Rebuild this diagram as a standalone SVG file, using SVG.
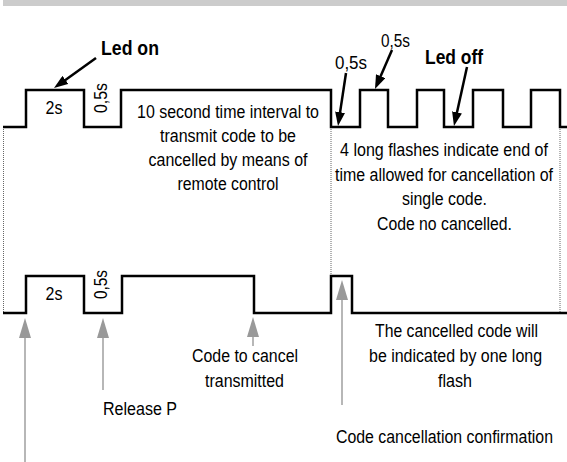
<svg xmlns="http://www.w3.org/2000/svg" width="567" height="462" viewBox="0 0 567 462">
<defs>
<marker id="ab" markerUnits="userSpaceOnUse" markerWidth="14" markerHeight="10" refX="6" refY="5" orient="auto"><path d="M0,0 L14,5 L0,10 z" fill="#000"/></marker>
<marker id="ag" markerUnits="userSpaceOnUse" markerWidth="20" markerHeight="12" refX="10" refY="6" orient="auto"><path d="M0,0 L20,6 L0,12 z" fill="#999"/></marker>
<style>
.t{font-family:"Liberation Sans",Arial,sans-serif;font-size:16px;fill:#000;text-anchor:middle}
.s{text-anchor:start}
.b{font-family:"Liberation Sans",Arial,sans-serif;font-size:17.5px;font-weight:bold;fill:#000}
.w{fill:none;stroke:#000;stroke-width:2.5}
.d{fill:none;stroke:#666;stroke-width:1;stroke-dasharray:1,1}
.ka{stroke:#000;stroke-width:2.5;marker-end:url(#ab)}
.ga{stroke:#999;stroke-width:1.4;marker-end:url(#ag)}
</style>
</defs>
<rect x="3" y="0" width="564" height="6" fill="#cccccc"/>
<g id="guides">
<line class="d" x1="3.5" y1="127" x2="3.5" y2="313"/>
<line class="d" x1="331" y1="127" x2="331" y2="276"/>
<line class="d" x1="560" y1="127" x2="560" y2="313"/>
</g>
<g id="wave-top">
<polyline class="w" points="3,127 26,127 26,90 84,90 84,127 121,127 121,90 331,90 331,127 360,127 360,90 388,90 388,127 417,127 417,90 444,90 444,127 473,127 473,90 503,90 503,127 531,127 531,90 560,90 560,127 567,127"/>
<text class="t" transform="translate(54,114) scale(1,1.17)">2s</text>
<text class="t s" transform="translate(107,113) rotate(-90) scale(1,1.17)" textLength="30" lengthAdjust="spacingAndGlyphs">0,5s</text>
</g>
<g id="wave-bottom">
<polyline class="w" points="3,313 26,313 26,276 84,276 84,313 122,313 122,276 254,276 254,313 331,313 331,276 352,276 352,313 567,313"/>
<text class="t" transform="translate(54,300) scale(1,1.17)">2s</text>
<text class="t s" transform="translate(107,299) rotate(-90) scale(1,1.17)" textLength="29" lengthAdjust="spacingAndGlyphs">0,5s</text>
</g>
<g id="label-led-on">
<text class="b" transform="translate(101,55) scale(1,1.15)" textLength="58" lengthAdjust="spacingAndGlyphs">Led on</text>
</g>
<g id="label-led-off">
<text class="b" transform="translate(425,64) scale(1,1.15)" textLength="58" lengthAdjust="spacingAndGlyphs">Led off</text>
</g>
<g id="label-05-upper">
<text class="t s" transform="translate(381,47) scale(1,1.17)" textLength="29" lengthAdjust="spacingAndGlyphs">0,5s</text>
</g>
<g id="label-05-lower">
<text class="t s" transform="translate(335,69) scale(1,1.17)" textLength="32" lengthAdjust="spacingAndGlyphs">0,5s</text>
</g>
<g id="text-interval">
<text class="t" transform="translate(228,118) scale(1,1.17)" textLength="182" lengthAdjust="spacingAndGlyphs">10 second time interval to</text>
<text class="t" transform="translate(228,142) scale(1,1.17)" textLength="136" lengthAdjust="spacingAndGlyphs">transmit code to be</text>
<text class="t" transform="translate(228,166) scale(1,1.17)" textLength="159" lengthAdjust="spacingAndGlyphs">cancelled by means of</text>
<text class="t" transform="translate(228,190) scale(1,1.17)" textLength="101" lengthAdjust="spacingAndGlyphs">remote control</text>
</g>
<g id="text-flashes">
<text class="t" transform="translate(444,156) scale(1,1.17)" textLength="208" lengthAdjust="spacingAndGlyphs">4 long flashes indicate end of</text>
<text class="t" transform="translate(444,180.5) scale(1,1.17)" textLength="218" lengthAdjust="spacingAndGlyphs">time allowed for cancellation of</text>
<text class="t" transform="translate(444.5,205) scale(1,1.17)" textLength="85" lengthAdjust="spacingAndGlyphs">single code.</text>
<text class="t" transform="translate(444.5,229.5) scale(1,1.17)" textLength="135" lengthAdjust="spacingAndGlyphs">Code no cancelled.</text>
</g>
<g id="text-cancelled">
<text class="t" transform="translate(456.5,337) scale(1,1.17)" textLength="163" lengthAdjust="spacingAndGlyphs">The cancelled code will</text>
<text class="t" transform="translate(455.5,362) scale(1,1.17)" textLength="173" lengthAdjust="spacingAndGlyphs">be indicated by one long</text>
<text class="t" transform="translate(455,387) scale(1,1.17)" textLength="34" lengthAdjust="spacingAndGlyphs">flash</text>
</g>
<g id="text-code-to-cancel">
<text class="t" transform="translate(245,362) scale(1,1.17)" textLength="106" lengthAdjust="spacingAndGlyphs">Code to cancel</text>
<text class="t" transform="translate(244.5,387) scale(1,1.17)" textLength="79" lengthAdjust="spacingAndGlyphs">transmitted</text>
</g>
<g id="text-release">
<text class="t" transform="translate(140,415) scale(1,1.17)" textLength="74" lengthAdjust="spacingAndGlyphs">Release P</text>
</g>
<g id="text-confirm">
<text class="t" transform="translate(444.5,443) scale(1,1.17)" textLength="217" lengthAdjust="spacingAndGlyphs">Code cancellation confirmation</text>
</g>
<g id="connectors">
<line class="ka" x1="96" y1="58" x2="60.5" y2="83.4"/>
<line class="ka" x1="392" y1="50" x2="378.2" y2="81.7"/>
<line class="ka" x1="346" y1="73" x2="339.2" y2="118.1"/>
<line class="ka" x1="467" y1="67" x2="455.7" y2="118.2"/>
<line class="ga" x1="25" y1="462" x2="25" y2="328"/>
<line class="ga" x1="103" y1="390" x2="103" y2="328"/>
<line class="ga" x1="253" y1="346" x2="253" y2="327"/>
<line class="ga" x1="342" y1="405" x2="342" y2="290"/>
</g>
</svg>
